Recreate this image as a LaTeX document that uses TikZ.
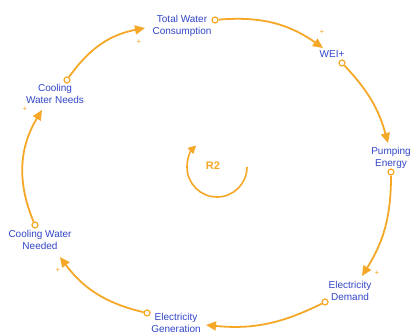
\documentclass[tikz,border=0pt]{standalone}
\usepackage{fontspec}
\setmainfont{Liberation Sans}
\usetikzlibrary{arrows.meta}
\definecolor{lnk}{RGB}{245,168,40}
\definecolor{lbl}{RGB}{50,70,200}
\begin{document}
\begin{tikzpicture}[x=1pt,y=1pt,
  lab/.style={font=\fontsize{10}{12}\selectfont, text=lbl, align=center, inner sep=0pt},
  dot/.style={circle, draw=lnk, fill=white, line width=1.2pt, minimum size=6pt, inner sep=0pt},
  link/.style={draw=lnk, line width=1.8pt, -{Triangle[length=10pt,width=9pt]}},
  pl/.style={text=lnk, font=\fontsize{8}{8}\selectfont, inner sep=0pt}]
\useasboundingbox[fill=white] (0,0) rectangle (414,-335);
% labels
\node[lab] (twc) at (182,-26) {Total Water\\Consumption};
\node[lab] (wei) at (332,-54) {WEI+};
\node[lab] (pe) at (391,-158) {Pumping\\Energy};
\node[lab] (ed) at (350,-291) {Electricity\\Demand};
\node[lab] (eg) at (176,-322.5) {Electricity\\Generation};
\node[lab] (cwnd) at (40,-240) {Cooling Water\\Needed};
\node[lab] (cwns) at (55,-93.5) {Cooling\\Water Needs};
% start dots
\node[dot] (d1) at (215,-20) {};
\node[dot] (d2) at (342,-63) {};
\node[dot] (d3) at (391,-172) {};
\node[dot] (d4) at (325,-302) {};
\node[dot] (d5) at (147,-313) {};
\node[dot] (d6) at (35,-225) {};
\node[dot] (d7) at (67,-80) {};
% arrow tips
\coordinate (t1) at (145,-28);
\coordinate (t2) at (323,-48);
\coordinate (t3) at (388,-143);
\coordinate (t4) at (362,-276);
\coordinate (t5) at (206,-325);
\coordinate (t6) at (60,-257);
\coordinate (t7) at (42,-110);
% connectors
\draw[link] (d7) to[bend left=22] (t1);
\draw[link] (d1) to[bend left=20] (t2);
\draw[link] (d2) to[bend left=14] (t3);
\draw[link] (d3) to[bend left=16] (t4);
\draw[link] (d4) to[bend left=16] (t5);
\draw[link] (d5) to[bend left=20] (t6);
\draw[link] (d6) to[bend left=27] (t7);
% plus signs
\node[pl] (p1) at (139,-42) {+};
\node[pl] (p2) at (322,-32) {+};
\node[pl] (p3) at (377,-273) {+};
\node[pl] (p4) at (58,-270) {+};
\node[pl] (p5) at (25,-109) {+};
% loop marker
\coordinate (rc) at (217,-167);
\node[text=lnk, font=\fontsize{11}{11}\selectfont\bfseries, inner sep=0pt] (r2) at (213,-166) {R2};
\draw[draw=lnk, line width=1.6pt, -{Triangle[length=8pt,width=8pt]}]
  ([shift={(0:30)}]rc) arc[start angle=0, end angle=-226, radius=30];
\end{tikzpicture}
\end{document}
